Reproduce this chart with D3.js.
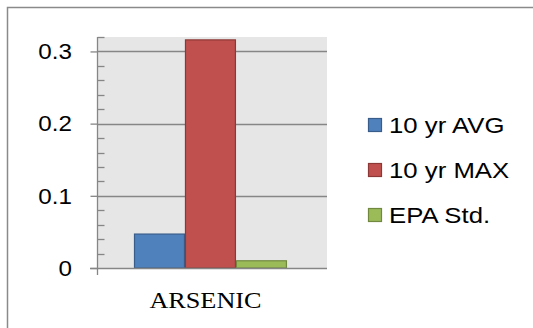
<!DOCTYPE html>
<html><head><meta charset="utf-8">
<script src="https://cdn.jsdelivr.net/npm/d3@7"></script>
<style>body{margin:0;background:#fff}svg{display:block}</style>
</head><body>
<script>
const categories = ["ARSENIC"];
const seriesNames = ["10 yr AVG", "10 yr MAX", "EPA Std."];
const avgValues = [0.047];
const maxValues = [0.316];
const epaValues = [0.010];
const majorTicks = [0, 0.1, 0.2, 0.3];
const tickLabels = ["0", "0.1", "0.2", "0.3"];
const minorTicks = [0.02,0.04,0.06,0.08,0.12,0.14,0.16,0.18,0.22,0.24,0.26,0.28,0.32];

const colors = ["#4f81bd", "#c0504d", "#9bbb59"];
const strokes = ["#385d8a", "#8c3836", "#71893f"];
const W = 533, H = 328;
const svg = d3.select("body").append("svg").attr("width", W).attr("height", H);

// outer border (top and left visible)
svg.append("path").attr("d", "M7.5,328 V7.5 H533").attr("fill", "none")
  .attr("stroke", "#8a8a8a").attr("stroke-width", 1.5);

const plot = {l: 97, r: 327, t: 37, b: 268};
const y = d3.scaleLinear().domain([0, 0.32]).range([plot.b, plot.t]);
const x0 = d3.scaleBand().domain(categories).range([plot.l, plot.r]).paddingInner(0).paddingOuter(0.252).align(0.48);
const x1 = d3.scaleBand().domain(seriesNames).range([0, x0.bandwidth()]);

svg.append("rect").attr("x", plot.l).attr("y", plot.t).attr("width", plot.r - plot.l)
  .attr("height", plot.b - plot.t).attr("fill", "#e6e6e6");

// gridlines
svg.append("g").selectAll("line").data(majorTicks.filter(d => d > 0)).join("line")
  .attr("x1", plot.l).attr("x2", plot.r).attr("y1", d => Math.round(y(d)) + 0.5).attr("y2", d => Math.round(y(d)) + 0.5)
  .attr("stroke", "#868686").attr("stroke-width", 1.3);

// bars
const data = categories.map((c, i) => ({c, vals: [avgValues[i], maxValues[i], epaValues[i]]}));
const g = svg.append("g");
data.forEach(d => {
  d.vals.forEach((v, j) => {
    g.append("rect")
      .attr("x", x0(d.c) + x1(seriesNames[j]) + 0.5)
      .attr("y", y(v))
      .attr("width", x1.bandwidth() - 1)
      .attr("height", y(0) - y(v))
      .attr("fill", colors[j]).attr("stroke", strokes[j]).attr("stroke-width", 1.2);
  });
});

// y axis
const axisG = svg.append("g").attr("transform", `translate(${plot.l + 0.5},0)`);
const yAxis = d3.axisLeft(y).tickValues(majorTicks).tickSize(7).tickFormat("");
axisG.call(yAxis);
axisG.select(".domain").attr("d", `M0,${plot.t}V${plot.b + 7}`);
axisG.selectAll("line, path").attr("stroke", "#868686").attr("stroke-width", 1.3);
// minor ticks inside
axisG.selectAll(".minor").data(minorTicks).join("line").attr("class", "minor")
  .attr("x1", 0).attr("x2", 7).attr("y1", d => Math.round(y(d)) + 0.5).attr("y2", d => Math.round(y(d)) + 0.5)
  .attr("stroke", "#868686").attr("stroke-width", 1.3);

// x baseline
svg.append("line").attr("x1", plot.l - 7).attr("x2", plot.r).attr("y1", plot.b + 0.5).attr("y2", plot.b + 0.5)
  .attr("stroke", "#868686").attr("stroke-width", 1.3);

// tick labels
svg.append("g").selectAll("text").data(majorTicks).join("text")
  .attr("transform", (d) => `translate(72,${y(d) + 7.8}) scale(1.1,1)`)
  .attr("text-anchor", "end").attr("font-family", "Liberation Sans, Arial, sans-serif")
  .attr("font-size", 22).attr("fill", "#000")
  .text((d, i) => tickLabels[i]);

// category label
svg.append("g").selectAll("text").data(categories).join("text")
  .attr("transform", d => `translate(${x0(d) + x0.bandwidth() / 2 - 5},308.3) scale(1.14,1)`)
  .attr("text-anchor", "middle").attr("font-family", "Liberation Serif, Times New Roman, serif")
  .attr("font-size", 23).attr("fill", "#000").text(d => d);

// legend
const leg = svg.append("g");
seriesNames.forEach((s, i) => {
  const cy = 125 + i * 45;
  leg.append("rect").attr("x", 368.5).attr("y", cy - 6.5).attr("width", 13).attr("height", 13)
    .attr("fill", colors[i]).attr("stroke", strokes[i]).attr("stroke-width", 1.2);
  leg.append("text").attr("transform", `translate(389,${cy + 8.3}) scale(1.12,1)`)
    .attr("font-family", "Liberation Sans, Arial, sans-serif").attr("font-size", 23)
    .attr("fill", "#000").text(s);
});
</script>
</body></html>
